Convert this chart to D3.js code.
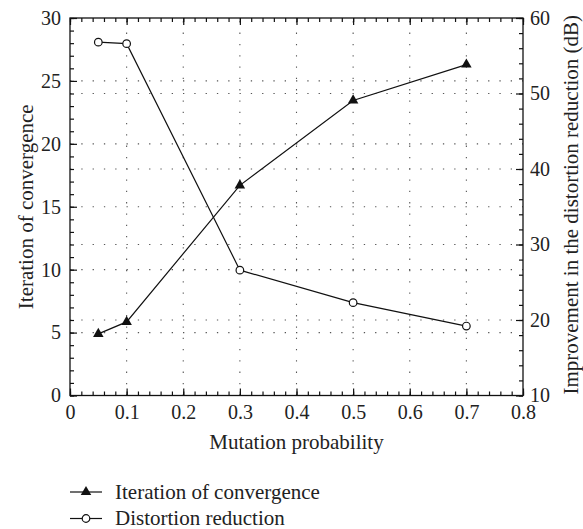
<!DOCTYPE html>
<html>
<head>
<meta charset="utf-8">
<script src="https://cdn.jsdelivr.net/npm/d3@7"></script>
<style>
  html, body { margin: 0; padding: 0; background: #fff; }
  svg { display: block; }
</style>
</head>
<body>
<svg id="chart" width="583" height="529" font-family="Liberation Serif"></svg>
<script>
// ---- data ----
const mutation = [0.05, 0.1, 0.3, 0.5, 0.7];
const iterations = [4.9, 5.85, 16.7, 23.45, 26.3];
const distortion = [56.8, 56.6, 26.6, 22.3, 19.2];
const xTicks = [0, 0.1, 0.2, 0.3, 0.4, 0.5, 0.6, 0.7, 0.8];
const xTickLabels = ["0", "0.1", "0.2", "0.3", "0.4", "0.5", "0.6", "0.7", "0.8"];
const leftTicks = [0, 5, 10, 15, 20, 25, 30];
const rightTicks = [10, 20, 30, 40, 50, 60];
const xLabel = "Mutation probability";
const leftLabel = "Iteration of convergence";
const rightLabel = "Improvement in the distortion reduction (dB)";
const seriesNames = ["Iteration of convergence", "Distortion reduction"];

// ---- layout ----
const L = 70, R = 523, T = 18, B = 395.5;
const FONT = '"Liberation Serif"';
const svg = d3.select("#chart");
const x = d3.scaleLinear().domain([0, 0.8]).range([L, R]);
const yL = d3.scaleLinear().domain([0, 30]).range([B, T]);
const yR = d3.scaleLinear().domain([10, 60]).range([B, T]);

const fontTick = "20px";
const gridColor = "#555";

// grid
const grid = svg.append("g").attr("stroke", gridColor).attr("stroke-width", 1.1)
  .attr("stroke-dasharray", "1.3,10").attr("fill", "none");
xTicks.filter(d => d > 0 && d < 0.8).forEach(d => {
  grid.append("line").attr("x1", x(d)).attr("x2", x(d)).attr("y1", B).attr("y2", T);
});
leftTicks.filter(d => d > 0 && d < 30).forEach(d => {
  grid.append("line").attr("x1", L).attr("x2", R).attr("y1", yL(d)).attr("y2", yL(d));
});
rightTicks.filter(d => d > 10 && d < 60).forEach(d => {
  grid.append("line").attr("x1", L).attr("x2", R).attr("y1", yR(d)).attr("y2", yR(d));
});

// minor tick values
const xMinor = d3.range(0, 41).map(i => i * 0.02);
const lMinor = d3.range(0, 31);
const rMinor = d3.range(10, 61, 2);

function styleAxis(g) {
  g.attr("font-family", "Liberation Serif");
  g.select(".domain").remove();
  g.selectAll(".tick line").attr("stroke", "#111").attr("stroke-width", 1.2);
  g.selectAll("text").style("font-size", fontTick);
}

// bottom
svg.append("g").attr("transform", `translate(0,${B})`)
  .call(d3.axisBottom(x).tickValues(xMinor).tickSize(-4).tickFormat("")).call(styleAxis);
svg.append("g").attr("transform", `translate(0,${B})`)
  .call(d3.axisBottom(x).tickValues(xTicks).tickSize(-7).tickPadding(9)
    .tickFormat((d, i) => xTickLabels[i])).call(styleAxis);
// top
svg.append("g").attr("transform", `translate(0,${T})`)
  .call(d3.axisTop(x).tickValues(xMinor).tickSize(-4).tickFormat("")).call(styleAxis);
svg.append("g").attr("transform", `translate(0,${T})`)
  .call(d3.axisTop(x).tickValues(xTicks).tickSize(-7).tickFormat("")).call(styleAxis);
// left
svg.append("g").attr("transform", `translate(${L},0)`)
  .call(d3.axisLeft(yL).tickValues(lMinor).tickSize(-4).tickFormat("")).call(styleAxis);
svg.append("g").attr("transform", `translate(${L},0)`)
  .call(d3.axisLeft(yL).tickValues(leftTicks).tickSize(-7).tickPadding(9)
    .tickFormat(d3.format("d"))).call(styleAxis);
// right
svg.append("g").attr("transform", `translate(${R},0)`)
  .call(d3.axisRight(yR).tickValues(rMinor).tickSize(-4).tickFormat("")).call(styleAxis);
svg.append("g").attr("transform", `translate(${R},0)`)
  .call(d3.axisRight(yR).tickValues(rightTicks).tickSize(-7).tickPadding(7)
    .tickFormat(d3.format("d"))).call(styleAxis);

// frame
svg.append("rect").attr("x", L).attr("y", T).attr("width", R - L).attr("height", B - T)
  .attr("fill", "none").attr("stroke", "#111").attr("stroke-width", 1.3);

// series
const lineIter = d3.line().x((d, i) => x(mutation[i])).y(d => yL(d));
const lineDist = d3.line().x((d, i) => x(mutation[i])).y(d => yR(d));
svg.append("path").attr("d", lineIter(iterations)).attr("fill", "none")
  .attr("stroke", "#111").attr("stroke-width", 1.2);
svg.append("path").attr("d", lineDist(distortion)).attr("fill", "none")
  .attr("stroke", "#111").attr("stroke-width", 1.2);

const tri = d3.symbol().type(d3.symbolTriangle).size(48);
svg.append("g").selectAll("path").data(iterations).join("path")
  .attr("d", tri)
  .attr("transform", (d, i) => `translate(${x(mutation[i])},${yL(d)})`)
  .attr("fill", "#111");
svg.append("g").selectAll("circle").data(distortion).join("circle")
  .attr("cx", (d, i) => x(mutation[i])).attr("cy", d => yR(d)).attr("r", 3.8)
  .attr("fill", "#fff").attr("stroke", "#111").attr("stroke-width", 1.2);

// axis titles
svg.append("text").attr("x", (L + R) / 2).attr("y", 449).attr("text-anchor", "middle")
  .style("font-size", "21px").text(xLabel);
svg.append("text").attr("transform", `translate(33,${(T + B) / 2}) rotate(-90)`)
  .attr("text-anchor", "middle").style("font-size", "21px").text(leftLabel);
svg.append("text").attr("transform", `translate(578,${(T + B) / 2 - 2}) rotate(-90)`)
  .attr("text-anchor", "middle").style("font-size", "21px").text(rightLabel);

// legend
const legY = [492, 518.5];
const leg = svg.append("g");
seriesNames.forEach((name, i) => {
  const g = leg.append("g").attr("transform", `translate(0,${legY[i]})`);
  g.append("line").attr("x1", 70).attr("x2", 102).attr("y1", 0).attr("y2", 0)
    .attr("stroke", "#111").attr("stroke-width", 1.2);
  if (i === 0) {
    g.append("path").attr("d", tri).attr("transform", "translate(86,0)").attr("fill", "#111");
  } else {
    g.append("circle").attr("cx", 86).attr("cy", 0).attr("r", 3.8)
      .attr("fill", "#fff").attr("stroke", "#111").attr("stroke-width", 1.2);
  }
  g.append("text").attr("x", 115).attr("y", 6.5).style("font-size", "21px").text(name);
});

svg.selectAll("text").style("font-family", FONT).attr("fill", "#222");
</script>
</body>
</html>
